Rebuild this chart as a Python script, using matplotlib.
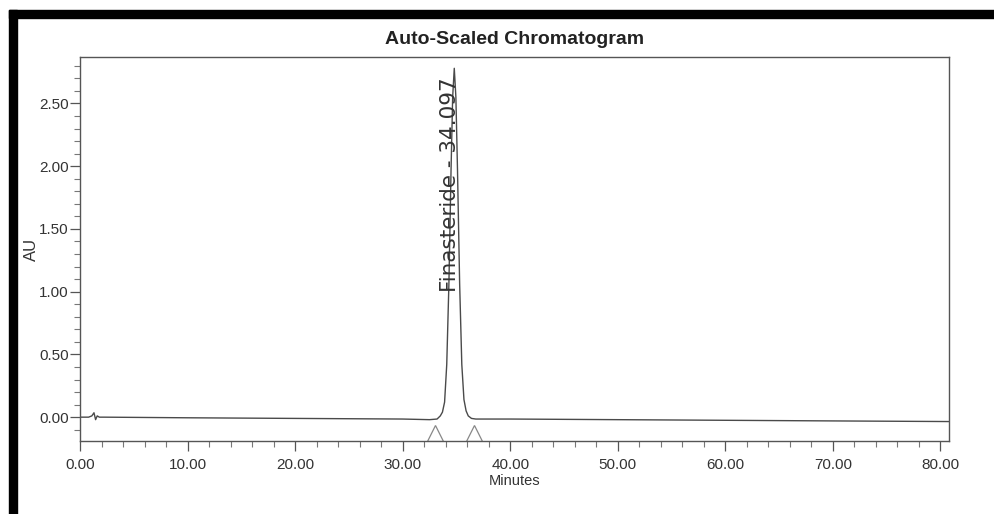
import matplotlib
matplotlib.use("Agg")
import matplotlib.pyplot as plt
from matplotlib.patches import Rectangle
from matplotlib.ticker import MultipleLocator, FormatStrFormatter

# ---- data ----
time_min = [0.0, 0.8, 1.1, 1.3, 1.45, 1.6, 1.8, 2.2, 10.0, 20.0, 30.0, 32.5, 33.2,
            33.5, 33.7, 33.9, 34.1, 34.3, 34.5, 34.65, 34.8, 34.95, 35.1, 35.3,
            35.5, 35.7, 35.9, 36.1, 36.4, 36.8, 40.0, 50.0, 60.0, 70.0, 80.8]
absorbance_au = [0.0, 0.0, 0.01, 0.035, -0.02, 0.01, 0.0, 0.0, -0.005, -0.01, -0.015,
                 -0.02, -0.015, 0.01, 0.04, 0.12, 0.42, 1.06, 1.97, 2.55, 2.78,
                 2.55, 1.97, 1.06, 0.42, 0.14, 0.05, 0.01, -0.01, -0.015, -0.015,
                 -0.02, -0.025, -0.03, -0.035]
peak_name = "Finasteride"
peak_rt_label = "34.097"
peak_apex_time = 34.8
peak_start_end_time = [33.0, 36.6]
peak_marker_au = [-0.125, -0.125]

x_ticks = [0, 10, 20, 30, 40, 50, 60, 70, 80]
y_ticks = [0.0, 0.5, 1.0, 1.5, 2.0, 2.5]

# ---- figure ----
plt.rcParams['font.family'] = ['Liberation Sans', 'DejaVu Sans']
gray_line = '#4a4a4a'
gray_text = '#333333'

fig = plt.figure(figsize=(9.94, 5.14), dpi=100)
fig.patch.set_facecolor('white')

# scan border (black bands top and left)
W, H = 994.0, 514.0
fig.patches.append(Rectangle((9 / W, 1 - 18 / H), 1 - 9 / W, 8 / H,
                             transform=fig.transFigure, color='black', zorder=0))
fig.patches.append(Rectangle((9 / W, 0), 8 / W, 1 - 10 / H,
                             transform=fig.transFigure, color='black', zorder=0))

ax = fig.add_axes([80 / W, 1 - 441 / H, (949 - 80) / W, (441 - 57) / H])
ax.plot(time_min, absorbance_au, color=gray_line, lw=1.0)
ax.plot(peak_start_end_time, peak_marker_au, linestyle='none', marker='^',
        markersize=11, markerfacecolor='none', markeredgecolor='#888888',
        markeredgewidth=0.9)

ax.text(peak_apex_time - 0.4, 1.0, f"{peak_name} - {peak_rt_label}",
        rotation=90, ha='center', va='bottom', fontsize=15.5,
        family='DejaVu Sans', color=gray_text)

ax.set_xlim(0, 80.8)
ax.set_ylim(-0.19, 2.87)
ax.set_xticks(x_ticks)
ax.set_yticks(y_ticks)
ax.xaxis.set_minor_locator(MultipleLocator(2))
ax.yaxis.set_minor_locator(MultipleLocator(0.1))
ax.xaxis.set_major_formatter(FormatStrFormatter('%.2f'))
ax.yaxis.set_major_formatter(FormatStrFormatter('%.2f'))
ax.tick_params(axis='both', which='major', direction='out', length=7,
               width=0.9, color='#555555', labelsize=11, labelcolor=gray_text)
ax.tick_params(axis='both', which='minor', direction='out', length=4,
               width=0.8, color='#777777')
ax.tick_params(axis='x', which='major', pad=5)
ax.tick_params(axis='y', which='major', pad=1)
for s in ax.spines.values():
    s.set_color('#555555')
    s.set_linewidth(1.0)

ax.set_xlabel("Minutes", fontsize=10.5, color=gray_text, labelpad=2)
ax.set_ylabel("AU", fontsize=12, color=gray_text)
ax.yaxis.set_label_coords(-0.047, 0.5)
ax.set_title("Auto-Scaled Chromatogram", fontsize=14, fontweight='bold',
             color='#222222', pad=9)

fig.savefig("out.png", dpi=100, facecolor='white')
